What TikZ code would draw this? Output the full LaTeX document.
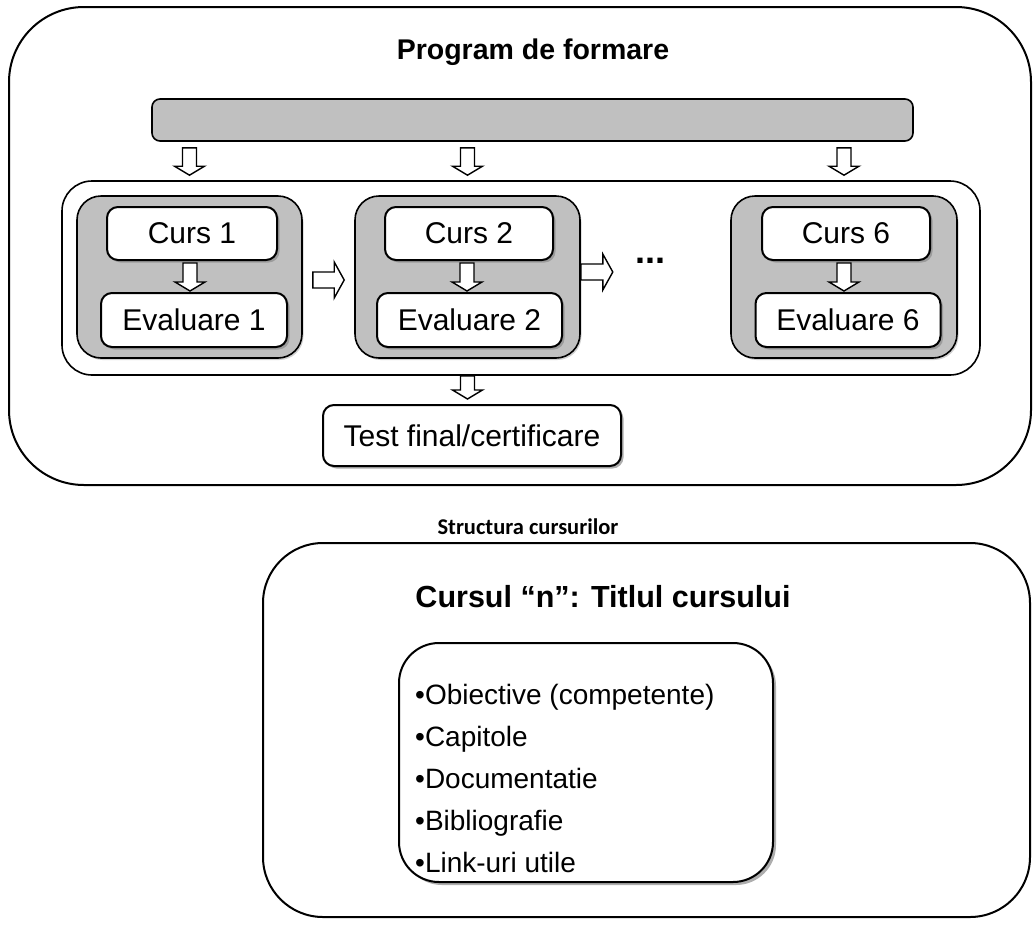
\documentclass[tikz,border=0pt]{standalone}
\usepackage{fontspec}
\setmainfont{Liberation Sans}
\newfontfamily\calibri{Carlito}
\usetikzlibrary{calc,shadows}
\definecolor{silv}{HTML}{C0C0C0}
\begin{document}
\begin{tikzpicture}[x=1pt,y=-1pt,
  frame/.style={draw, line width=2pt, rounded corners=#1, inner sep=0pt},
  bar/.style={draw, fill=silv, line width=1.6pt, rounded corners=8pt, inner sep=0pt},
  cont/.style={draw, line width=1.6pt, rounded corners=30pt, inner sep=0pt},
  grp/.style={draw, fill=silv, line width=1.6pt, rounded corners=24pt, inner sep=0pt,
     drop shadow={shadow xshift=1.5pt, shadow yshift=-2pt, fill=black!30, opacity=0.6}},
  wbox/.style={draw, fill=white, line width=2pt, rounded corners=11pt, inner sep=0pt,
     font=\fontsize{30}{36}\selectfont,
     drop shadow={shadow xshift=2.5pt, shadow yshift=-2.5pt, fill=black!45, opacity=0.7}},
  listbox/.style={draw, fill=white, line width=2pt, rounded corners=40pt, inner sep=0pt,
     drop shadow={shadow xshift=3pt, shadow yshift=-3pt, fill=black!45, opacity=0.7}},
  item/.style={anchor=base west, inner sep=0pt, font=\fontsize{28}{33}\selectfont},
  sz/.style 2 args={minimum width=#1pt, minimum height=#2pt},
  blk/.style={draw, fill=white, line width=1.4pt, line join=miter},
  blockdown/.style={blk, to path={let \p1=(\tikztostart), \p2=(\tikztotarget) in
     (\x1-7pt,\y1) -- (\x1+7pt,\y1) -- (\x1+7pt,\y2+9pt) -- (\x1+15pt,\y2+9pt)
     -- (\x1,\y2) -- (\x1-15pt,\y2+9pt) -- (\x1-7pt,\y2+9pt) -- cycle}},
  blockright/.style={blk, to path={let \p1=(\tikztostart), \p2=(\tikztotarget) in
     (\x1,\y1+8pt) -- (\x2-10pt,\y1+8pt) -- (\x2-10pt,\y1+18pt) -- (\x2,\y1)
     -- (\x2-10pt,\y1-18pt) -- (\x2-10pt,\y1-8pt) -- (\x1,\y1-8pt) -- cycle}}
]
\useasboundingbox (0,0) rectangle (1036,924);

% ---------- upper frame ----------
\node[frame=75pt, sz={1022}{478}] (top) at (520,246) {};
\node[font=\fontsize{28.5}{34}\selectfont\bfseries] (title) at (533,52) {Program de formare};
\node[bar, sz={761}{42}] (bar) at (532.5,120) {};
\node[cont, sz={918}{194}] (cont) at (521,278) {};

\node[grp, sz={225}{162}] (g1) at (189.5,277) {};
\node[grp, sz={225}{162}] (g2) at (467.5,277) {};
\node[grp, sz={226}{162}] (g6) at (844,277) {};

\node[wbox, sz={170}{53}] (c1) at (192,233.5) {Curs 1};
\node[wbox, sz={186}{54}] (e1) at (194,320) {Evaluare 1};
\node[wbox, sz={168}{53}] (c2) at (469,233.5) {Curs 2};
\node[wbox, sz={185}{54}] (e2) at (469.5,320) {Evaluare 2};
\node[wbox, sz={168}{53}] (c6) at (846,233.5) {Curs 6};
\node[wbox, sz={185}{54}] (e6) at (848,320) {Evaluare 6};

\node[font=\fontsize{36}{40}\selectfont\bfseries, anchor=base, inner sep=0pt] (dots) at (650,263) {...};

\node[wbox, sz={298}{61}] (test) at (472,435.5) {Test final/certificare};

% block arrows
\draw[blockdown] ($(bar.south -| g1.north)+(0,6)$) to ($(cont.north -| g1.north)+(0,-5)$);
\draw[blockdown] ($(bar.south -| g2.north)+(0,6)$) to ($(cont.north -| g2.north)+(0,-5)$);
\draw[blockdown] ($(bar.south -| g6.north)+(0,6)$) to ($(cont.north -| g6.north)+(0,-5)$);
\draw[blockdown] ($(c1.south)+(-2,2)$) to ($(e1.north)+(0,-1)$);
\draw[blockdown] ($(c2.south)+(-2,2)$) to ($(e2.north)+(0,-1)$);
\draw[blockdown] ($(c6.south)+(-2,2)$) to ($(e6.north)+(0,-1)$);
\draw[blockright] ($(g1.east)+(10,3)$) to ($(g2.west)+(-10,3)$);
\draw[blockright] ($(g2.east)+(0,-5)$) to ($(g2.east)+(32,-5)$);
\draw[blockdown] (cont.south -| g2.south) to ($(test.north -| g2.south)+(0,-5)$);

% ---------- lower part ----------
\node[font=\calibri\fontsize{22.5}{27}\selectfont\bfseries] (struct) at (528,527) {Structura cursurilor};
\node[frame=60pt, sz={767}{374}] (low) at (646.5,730) {};
\node[font=\fontsize{30.5}{36}\selectfont\bfseries] (ctitle) at (603,597) {Cursul “n”: Titlul cursului};
\node[listbox, sz={374}{239}] (list) at (586,762.5) {};
\node[item] (i1) at (415,704) {•Obiective (competente)};
\node[item] (i2) at (415,746) {•Capitole};
\node[item] (i3) at (415,788) {•Documentatie};
\node[item] (i4) at (415,830) {•Bibliografie};
\node[item] (i5) at (415,872) {•Link-uri utile};
\end{tikzpicture}
\end{document}
